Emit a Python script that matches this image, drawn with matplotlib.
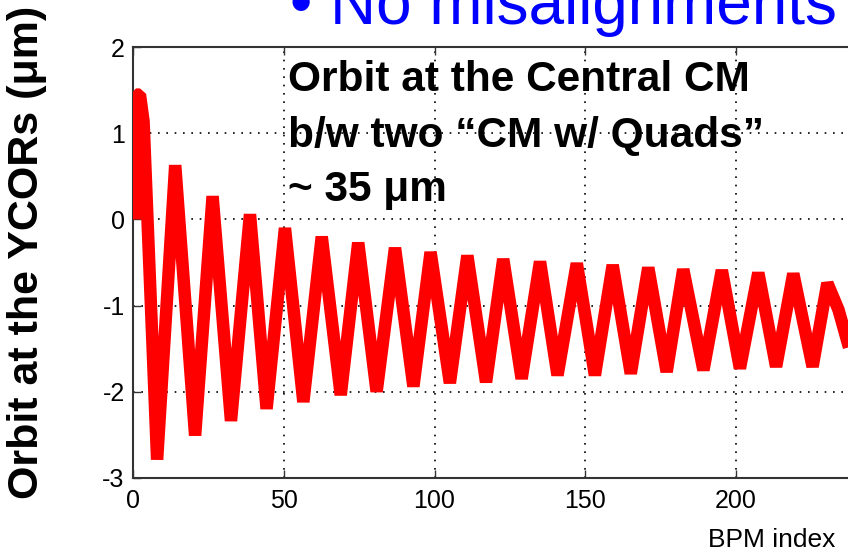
import matplotlib
matplotlib.use("Agg")
import matplotlib.pyplot as plt

# ---- data ----
bpm_index = [1, 1, 2.3, 3.5, 8.0, 14.0, 20.6, 26.4, 32.5, 38.8, 44.3, 50.4, 56.5,
             62.6, 68.9, 74.7, 80.8, 86.9, 93.0, 98.7, 105.1, 110.9, 117.1,
             122.8, 128.9, 135.0, 140.8, 147.2, 153.2, 159.1, 165.1, 170.9,
             177.0, 182.5, 189.2, 195.3, 201.3, 207.4, 213.3, 219.0, 225.4,
             230.3, 234.0, 238.0, 240.0]
orbit_um = [0.0, 1.45, 1.45, 1.14, -2.79, 0.63, -2.51, 0.27, -2.34, 0.06, -2.20,
            -0.10, -2.12, -0.20, -2.04, -0.27, -2.00, -0.33, -1.94, -0.38,
            -1.90, -0.42, -1.89, -0.46, -1.85, -0.49, -1.81, -0.51, -1.81,
            -0.53, -1.79, -0.56, -1.77, -0.58, -1.75, -0.59, -1.73, -0.62,
            -1.71, -0.63, -1.71, -0.74, -1.05, -1.55, -1.65]
xticks = [0, 50, 100, 150, 200]
yticks = [-3, -2, -1, 0, 1, 2]

title_text = "\u2022 No misalignments"
note_lines = ["Orbit at the Central CM",
              "b/w two \u201cCM w/ Quads\u201d",
              "~ 35 \u03bcm"]
ylabel_text = "Orbit at the YCORs (\u03bcm)"
xlabel_text = "BPM index"

W, H = 848, 553
plt.rcParams['font.family'] = ['Liberation Sans', 'DejaVu Sans']
plt.rcParams['axes.unicode_minus'] = False
fig = plt.figure(figsize=(W / 100, H / 100), dpi=100)

left_px, right_px_250 = 133, 133 + 250 * 3.015
top_px, bot_px = 47.3, 477.7
ax = fig.add_axes([left_px / W, 1 - bot_px / H,
                   (right_px_250 - left_px) / W, (bot_px - top_px) / H])

ax.plot(bpm_index, orbit_um, color='#ff0000', lw=9,
        solid_joinstyle='bevel', solid_capstyle='butt', zorder=3)

ax.set_xlim(0, 250)
ax.set_ylim(-3, 2)
ax.set_xticks(xticks)
ax.set_yticks(yticks)
ax.grid(True, color='black', linestyle=(0, (1, 4)), linewidth=1.2, zorder=1)
ax.tick_params(direction='in', length=6, width=1, color='#333333',
               top=True, right=True, labelsize=18, pad=8)
ax.tick_params(axis='y', pad=6)
for s in ax.spines.values():
    s.set_color('#333333')
    s.set_linewidth(1.5)

fig.text(290 / W, 1 - 24 / H, title_text, color='#0000ff', fontsize=46,
         ha='left', va='baseline')

baselines = [91, 147, 201]
for line, b in zip(note_lines, baselines):
    fig.text(288 / W, 1 - b / H, line, fontsize=30.5, fontweight='bold',
             ha='left', va='baseline', color='black')

fig.text(27 / W, 1 - 252 / H, ylabel_text, rotation=90, fontsize=31,
         fontweight='bold', ha='center', va='center')

fig.text(835 / W, 1 - 547 / H, xlabel_text, fontsize=19, ha='right',
         va='baseline')

fig.savefig("out.png", dpi=100)
